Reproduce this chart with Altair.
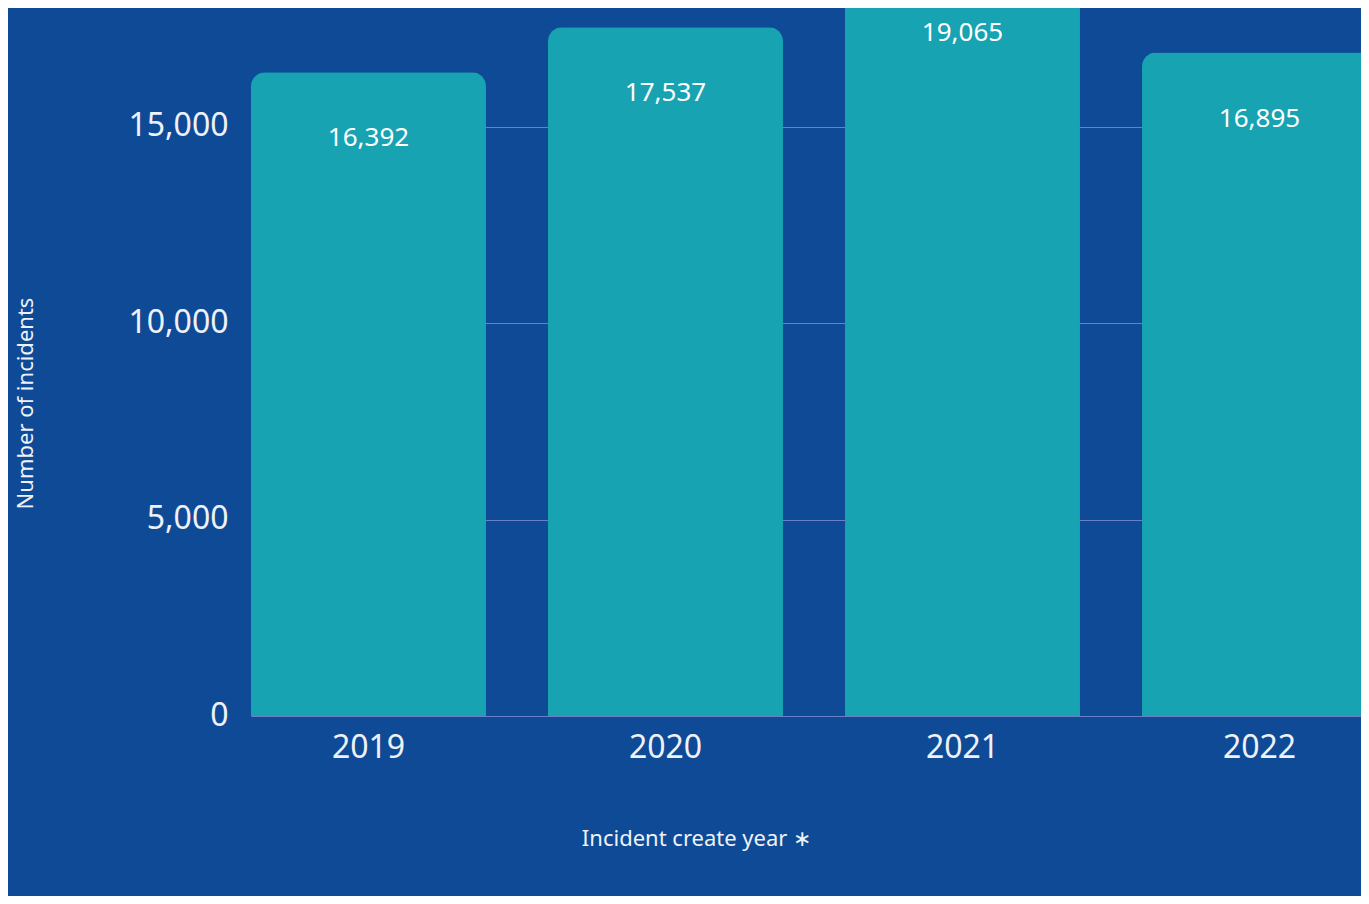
import altair as alt
import pandas as pd

years = ["2019", "2020", "2021", "2022"]
incidents = [16392, 17537, 19065, 16895]
y_ticks = [0, 5000, 10000, 15000]

df = pd.DataFrame({"year": years, "incidents": incidents})

BG = "#0e4a96"
BAR = "#17a3b2"
TXT = "#eef2f8"
GRID = "#6a80c4"
FONT = "Noto Sans"

x = alt.X(
    "year:N",
    sort=years,
    title="Incident create year ∗",
    scale=alt.Scale(range=[0, 1126], paddingInner=0.2088, paddingOuter=0),
    axis=alt.Axis(
        labelAngle=0, labelFontSize=32, labelColor=TXT, labelFont=FONT,
        labelPadding=31, labelBaseline="middle", ticks=False, domain=False,
        grid=False, titleFontSize=22, titleColor=TXT, titleFont=FONT,
        titleFontWeight="normal", titleX=445, titleY=122,
        titleBaseline="middle", titleAlign="center",
    ),
)
y = alt.Y(
    "incidents:Q",
    title="Number of incidents",
    scale=alt.Scale(domain=[0, 18030], nice=False, zero=True),
    axis=alt.Axis(
        values=y_ticks, format=",.0f", labelFontSize=32, labelColor=TXT,
        labelFont=FONT, labelPadding=23, labelOffset=-1, ticks=False,
        domain=False, grid=True, gridColor=GRID, gridWidth=1,
        titleFontSize=22, titleColor=TXT, titleFont=FONT,
        titleFontWeight="normal", titleX=-226, titleY=395, titleAngle=270,
        titleBaseline="middle", titleAlign="center",
    ),
)

bars = alt.Chart(df).mark_bar(
    color=BAR, cornerRadiusTopLeft=14, cornerRadiusTopRight=14
).encode(x=x, y=y)

labels = alt.Chart(df).mark_text(
    dy=66, baseline="middle", fontSize=26, color="white", font=FONT
).encode(x=x, y=y, text=alt.Text("incidents:Q", format=","))

chart = (
    alt.layer(bars, labels)
    .properties(
        width=1110, height=708, background=BG,
        autosize=alt.AutoSizeParams(type="none"),
        padding={"left": 243, "top": 0, "right": 0, "bottom": 180},
    )
    .configure_view(stroke=None)
)

chart.save("out.html", embed_options={"renderer": "svg", "actions": False})
